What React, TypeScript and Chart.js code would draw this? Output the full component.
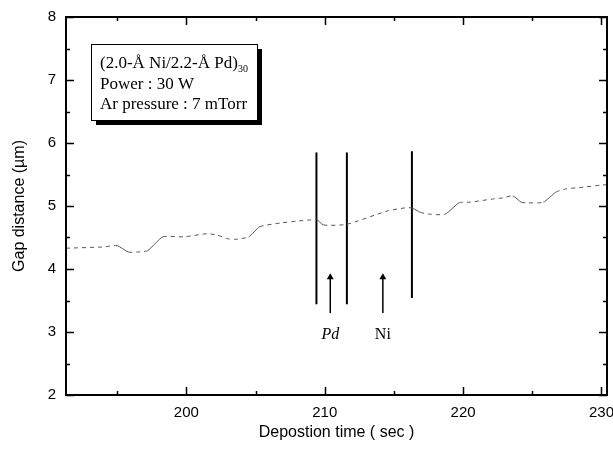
import React, { useEffect, useRef } from "react";
import { Chart, registerables } from "chart.js";
Chart.register(...registerables);

// ---- data ----
const curveTimes = [191.3, 194.0, 195.0, 195.8, 196.5, 197.2, 198.3, 199.8, 201.5, 202.2, 203.0, 203.5, 204.5, 205.3, 206.8, 208.0, 209.0, 209.4, 209.9, 211.6, 214.5, 215.8, 216.3, 216.9, 217.6, 218.7, 219.7, 220.5, 222.1, 222.9, 223.6, 224.2, 224.7, 225.8, 226.7, 227.4, 228.7, 229.9, 230.4];
const curveGaps = [4.33, 4.35, 4.37, 4.27, 4.27, 4.29, 4.51, 4.51, 4.56, 4.54, 4.48, 4.47, 4.51, 4.67, 4.73, 4.76, 4.78, 4.79, 4.70, 4.71, 4.92, 4.97, 4.97, 4.90, 4.87, 4.87, 5.05, 5.06, 5.11, 5.13, 5.16, 5.06, 5.05, 5.06, 5.22, 5.27, 5.30, 5.33, 5.34];

const markerTimes = [209.4, 211.6, 216.3];
const markerTops = [5.85, 5.85, 5.87];
const markerBottoms = [3.44, 3.44, 3.54];

const arrowTimes = [210.4, 214.2];
const arrowTips = [3.87, 3.87];
const arrowTails = [3.3, 3.3];
const arrowLabels = ["Pd", "Ni"];
const arrowLabelItalic = [true, false];
const arrowLabelGap = 2.95;

const xMajorTicks = [200, 210, 220, 230];
const xMinorTicks = [195, 205, 215, 225];
const yMajorTicks = [2, 3, 4, 5, 6, 7, 8];
const yMinorTicks = [2.5, 3.5, 4.5, 5.5, 6.5, 7.5];
const xMin = 191.3;
const xMax = 230.4;
const yMin = 2;
const yMax = 8;

const xTitle = "Depostion time ( sec )";
const yTitle = "Gap distance (\u00b5m)";
const noteLine1 = "(2.0-\u00c5 Ni/2.2-\u00c5 Pd)";
const noteLine1Sub = "30";
const noteLine2 = "Power : 30 W";
const noteLine3 = "Ar pressure : 7 mTorr";

const SANS = '"Liberation Sans", Arial, sans-serif';
const SERIF = '"Liberation Serif", "Times New Roman", serif';

const decorPlugin = {
  id: "decor",
  afterDraw(chart: any) {
    const { ctx, chartArea: a, scales } = chart;
    const xs = scales.x;
    const ys = scales.y;
    ctx.save();
    ctx.strokeStyle = "#000";
    // frame
    ctx.lineWidth = 2;
    ctx.strokeRect(a.left, a.top, a.right - a.left, a.bottom - a.top);
    // inward ticks
    ctx.lineWidth = 1.5;
    ctx.beginPath();
    const xt = (v: number, len: number) => {
      const p = Math.round(xs.getPixelForValue(v)) + 0.5;
      ctx.moveTo(p, a.bottom);
      ctx.lineTo(p, a.bottom - len);
      ctx.moveTo(p, a.top);
      ctx.lineTo(p, a.top + len);
    };
    const yt = (v: number, len: number) => {
      const p = Math.round(ys.getPixelForValue(v)) + 0.5;
      ctx.moveTo(a.left, p);
      ctx.lineTo(a.left + len, p);
      ctx.moveTo(a.right, p);
      ctx.lineTo(a.right - len, p);
    };
    xMajorTicks.forEach((v) => xt(v, 8));
    xMinorTicks.forEach((v) => xt(v, 4));
    yMajorTicks.forEach((v) => yt(v, 8));
    yMinorTicks.forEach((v) => yt(v, 4));
    ctx.stroke();

    // arrow labels
    ctx.fillStyle = "#000";
    ctx.textAlign = "center";
    ctx.textBaseline = "middle";
    arrowLabels.forEach((t, i) => {
      ctx.font = (arrowLabelItalic[i] ? "italic " : "") + "16px " + SERIF;
      ctx.fillText(t, xs.getPixelForValue(arrowTimes[i]), ys.getPixelForValue(arrowLabelGap));
    });

    // note box
    const bx = a.left + 25;
    const by = a.top + 27;
    const bw = 166;
    const bh = 76;
    ctx.fillStyle = "#000";
    ctx.fillRect(bx + 5, by + 5, bw, bh);
    ctx.fillStyle = "#fff";
    ctx.fillRect(bx, by, bw, bh);
    ctx.lineWidth = 1;
    ctx.strokeRect(bx + 0.5, by + 0.5, bw, bh);
    ctx.fillStyle = "#000";
    ctx.textAlign = "left";
    ctx.textBaseline = "alphabetic";
    ctx.font = "17px " + SERIF;
    ctx.fillText(noteLine1, bx + 9, by + 24);
    const w1 = ctx.measureText(noteLine1).width;
    ctx.font = "10px " + SERIF;
    ctx.fillText(noteLine1Sub, bx + 9 + w1, by + 28);
    ctx.font = "17px " + SERIF;
    ctx.fillText(noteLine2, bx + 9, by + 45);
    ctx.fillText(noteLine3, bx + 9, by + 65);
    ctx.restore();
  },
};

export default function App() {
  const ref = useRef<HTMLCanvasElement | null>(null);
  useEffect(() => {
    document.body.style.margin = "0";
    const canvas = ref.current;
    if (!canvas) return;
    const curve = curveTimes.map((t, i) => ({ x: t, y: curveGaps[i] }));
    const datasets: any[] = [
      {
        data: curve,
        borderColor: "#555",
        borderWidth: 1,
        pointRadius: 0,
        tension: 0.2,
        segment: {
          borderDash: (c: any) => {
            const dy = Math.abs(c.p1.parsed.y - c.p0.parsed.y);
            const dx = Math.abs(c.p1.parsed.x - c.p0.parsed.x) || 1;
            return dy / dx > 0.08 ? [] : [4, 4];
          },
        },
      },
    ];
    markerTimes.forEach((t, i) => {
      datasets.push({
        data: [
          { x: t, y: markerBottoms[i] },
          { x: t, y: markerTops[i] },
        ],
        borderColor: "#000",
        borderWidth: 2,
        pointRadius: 0,
      });
    });
    arrowTimes.forEach((t, i) => {
      datasets.push({
        data: [
          { x: t, y: arrowTails[i] },
          { x: t, y: arrowTips[i] },
        ],
        borderColor: "#000",
        backgroundColor: "#000",
        borderWidth: 1.5,
        pointStyle: "triangle",
        pointRadius: [0, 4],
        pointBorderWidth: 0,
      });
    });
    const chart = new Chart(canvas, {
      type: "line",
      data: { datasets },
      plugins: [decorPlugin],
      options: {
        animation: false,
        responsive: false,
        maintainAspectRatio: false,
        layout: { padding: { top: 17, right: 6, left: 0, bottom: 0 } },
        plugins: { legend: { display: false }, tooltip: { enabled: false } },
        scales: {
          x: {
            type: "linear",
            min: xMin,
            max: xMax,
            afterBuildTicks: (s: any) => {
              s.ticks = xMajorTicks.map((v) => ({ value: v }));
            },
            afterFit: (s: any) => {
              s.height = 57;
              s.paddingLeft = 0;
              s.paddingRight = 0;
            },
            grid: { display: false, drawTicks: false },
            border: { display: false },
            ticks: { color: "#000", font: { family: SANS, size: 15 }, padding: 9, maxRotation: 0 },
            title: {
              display: true,
              text: xTitle,
              color: "#000",
              font: { family: SANS, size: 16 },
              padding: { top: 0, bottom: 10 },
            },
          },
          y: {
            type: "linear",
            min: yMin,
            max: yMax,
            afterBuildTicks: (s: any) => {
              s.ticks = yMajorTicks.map((v) => ({ value: v }));
            },
            afterFit: (s: any) => {
              s.width = 66;
              s.paddingTop = 0;
              s.paddingBottom = 0;
            },
            grid: { display: false, drawTicks: false },
            border: { display: false },
            ticks: { color: "#000", font: { family: SANS, size: 15 }, padding: 10 },
            title: {
              display: true,
              text: yTitle,
              color: "#000",
              font: { family: SANS, size: 16 },
              padding: { top: 10, bottom: 0 },
            },
          },
        },
      },
    });
    return () => chart.destroy();
  }, []);
  return (
    <div style={{ width: 613, height: 452, background: "#fff" }}>
      <canvas ref={ref} width={613} height={452} />
    </div>
  );
}
